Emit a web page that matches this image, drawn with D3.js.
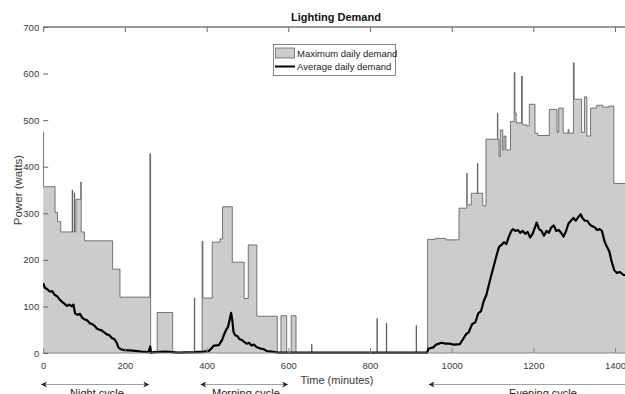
<!DOCTYPE html>
<html>
<head>
<meta charset="utf-8">
<script src="https://cdn.jsdelivr.net/npm/d3@7"></script>
<style>
  body { margin: 0; background: #fff; }
  svg { display: block; font-family: 'Liberation Sans', Arial, sans-serif; }
</style>
</head>
<body>
<svg id="chart" width="625" height="394"></svg>
<script>
// maximum daily demand, step values (value holds until next time)
const maxTimes = [0, 1, 29, 35, 43, 71, 72, 76, 77, 80, 92, 93, 95, 101, 170, 188, 261, 263, 279, 317,
  370, 371, 389, 391, 414, 433, 439, 463, 492, 502, 523, 573, 582, 596, 607, 619, 657, 658,
  817, 818, 840, 841, 913, 914, 941, 960, 985, 1018, 1037, 1038, 1048, 1063, 1064, 1076, 1084,
  1112, 1113, 1116, 1119, 1125, 1128, 1133, 1144, 1153, 1155, 1158, 1171, 1173, 1183, 1190,
  1204, 1211, 1239, 1258, 1262, 1273, 1285, 1287, 1298, 1300, 1318, 1325, 1331, 1340, 1355,
  1370, 1385, 1397, 1440]
const maxValues = [474, 357, 302, 282, 260, 350, 260, 344, 260, 330, 367, 260, 260, 241, 180, 120, 428, 0, 87, 0,
  118, 0, 240, 118, 238, 245, 314, 195, 117, 232, 79, 0, 80, 0, 80, 0, 19, 0,
  74, 0, 64, 0, 59, 0, 244, 246, 243, 311, 386, 318, 343, 407, 343, 316, 459,
  515, 459, 422, 479, 436, 466, 436, 497, 602, 515, 494, 594, 490, 488, 534,
  472, 467, 523, 474, 526, 472, 480, 472, 623, 545, 474, 550, 466, 526, 532,
  528, 530, 364, 364]

// average daily demand
const avgTimes = [0, 4, 10, 16, 22, 28, 34, 40, 46, 52, 58, 64, 70, 74, 78, 84, 90, 96, 102, 108, 114, 120,
  126, 132, 138, 144, 150, 156, 162, 168, 174, 180, 184, 190, 200, 220, 240, 258, 262, 264, 270,
  300, 317, 330, 370, 392, 405, 412, 418, 430, 438, 442, 448, 452, 456, 460, 463, 466, 470, 476,
  480, 486, 492, 498, 504, 510, 516, 522, 530, 540, 548, 560, 575, 940, 943, 955, 962, 975, 985,
  995, 1005, 1020, 1028, 1035, 1042, 1050, 1058, 1065, 1072, 1078, 1085, 1092, 1098, 1104, 1110,
  1116, 1122, 1128, 1134, 1140, 1146, 1150, 1156, 1162, 1168, 1174, 1180, 1186, 1192, 1198, 1204,
  1208, 1214, 1220, 1226, 1232, 1238, 1244, 1250, 1256, 1262, 1268, 1274, 1280, 1286, 1292, 1298,
  1304, 1310, 1316, 1320, 1326, 1332, 1338, 1344, 1350, 1356, 1362, 1368, 1374, 1380, 1386, 1392,
  1398, 1404, 1412, 1420, 1430, 1440]
const avgValues = [150, 140, 137, 132, 133, 125, 122, 115, 110, 106, 101, 104, 100, 104, 85, 82, 84, 75, 72, 70, 64, 62,
  58, 52, 50, 48, 44, 40, 38, 32, 30, 22, 12, 8, 6, 5, 3, 2, 14, 0, 2,
  3, 2, 1, 2, 3, 4, 10, 16, 17, 28, 38, 50, 55, 70, 86, 70, 45, 38, 36,
  30, 28, 24, 20, 22, 16, 18, 13, 10, 8, 4, 3, 1, 1, 9, 12, 18, 22, 20,
  20, 18, 19, 30, 40, 45, 62, 66, 85, 90, 110, 125, 150, 170, 190, 210,
  228, 232, 238, 234, 250, 262, 266, 262, 264, 258, 262, 256, 260, 248, 256, 270,
  280, 266, 262, 252, 262, 258, 270, 274, 262, 264, 258, 250, 262, 278, 284, 290,
  284, 292, 298, 290, 284, 284, 276, 272, 270, 264, 266, 262, 240, 228, 218, 195,
  178, 172, 174, 168, 166, 170]

const xTicks = [0, 200, 400, 600, 800, 1000, 1200, 1400]
const yTicks = [0, 100, 200, 300, 400, 500, 600, 700]
const cycles = ['Night cycle', 'Morning cycle', 'Evening cycle']
const cycleStart = [-4, 386, 945]
const cycleEnd = [258, 598, 1480]

const maxData = maxTimes.map((t, i) => ({ t, v: maxValues[i] }))
const avgData = avgTimes.map((t, i) => ({ t, v: avgValues[i] }))

const svg = d3.select('#chart')
const x = d3.scaleLinear().domain([0, 1440]).range([43.2, 631.4])
const y = d3.scaleLinear().domain([0, 700]).range([353, 27])
const axisColour = '#333'
const textColour = '#3a3a3a'

const defs = svg.append('defs')
defs.append('clipPath').attr('id', 'plotClip')
  .append('rect').attr('x', 43).attr('y', 20).attr('width', 600).attr('height', 334)
defs.append('marker')
  .attr('id', 'arrowHead')
  .attr('viewBox', '0 0 10 10')
  .attr('refX', 9).attr('refY', 5)
  .attr('markerWidth', 8).attr('markerHeight', 6)
  .attr('markerUnits', 'userSpaceOnUse')
  .attr('orient', 'auto-start-reverse')
  .append('path').attr('d', 'M0,0 L10,5 L0,10 L3,5 Z').attr('fill', '#222')

const plot = svg.append('g').attr('clip-path', 'url(#plotClip)')

// maximum demand area
plot.append('path')
  .datum(maxData)
  .attr('fill', '#cccccc')
  .attr('d', d3.area().curve(d3.curveStepAfter).x((d) => x(d.t)).y0(y(0)).y1((d) => y(d.v)))
plot.append('path')
  .datum(maxData)
  .attr('fill', 'none')
  .attr('stroke', '#444')
  .attr('stroke-width', 0.7)
  .attr('d', d3.line().curve(d3.curveStepAfter).x((d) => x(d.t)).y((d) => y(d.v)))

// axes (matlab box, ticks inside)
const bottomAxis = svg.append('g')
  .attr('transform', `translate(0, ${y(0)})`)
  .call(d3.axisBottom(x).tickValues(xTicks).tickFormat(d3.format('d'))
    .tickSizeInner(-5).tickSizeOuter(0).tickPadding(9))
bottomAxis.select('.domain').attr('stroke', '#888').attr('d', `M${x(0)},0H625`)
bottomAxis.selectAll('.tick line').attr('stroke', '#888')

const topAxis = svg.append('g')
  .attr('transform', `translate(0, ${y(700)})`)
  .call(d3.axisTop(x).tickValues(xTicks).tickSizeInner(-5).tickSizeOuter(0).tickFormat(''))
topAxis.select('.domain').attr('stroke', axisColour).attr('d', `M${x(0)},0H625`)
topAxis.selectAll('.tick line').attr('stroke', '#666')

const leftAxis = svg.append('g')
  .attr('transform', `translate(${x(0)}, 0)`)
  .call(d3.axisLeft(y).tickValues(yTicks).tickSizeInner(-5).tickSizeOuter(0).tickPadding(4))
leftAxis.select('.domain').remove()
leftAxis.selectAll('.tick line').attr('stroke', '#666')

svg.selectAll('.tick text')
  .attr('font-size', 9.5)
  .attr('fill', textColour)
  .attr('font-family', "'Liberation Sans', Arial, sans-serif")

// average demand line
plot.append('path')
  .datum(avgData)
  .attr('fill', 'none')
  .attr('stroke', '#000')
  .attr('stroke-width', 2.2)
  .attr('stroke-linejoin', 'round')
  .attr('d', d3.line().x((d) => x(d.t)).y((d) => y(d.v)))

// title and labels
svg.append('text')
  .attr('x', 336).attr('y', 21)
  .attr('text-anchor', 'middle')
  .attr('font-size', 11)
  .attr('font-weight', 'bold')
  .attr('fill', '#111')
  .text('Lighting Demand')

svg.append('text')
  .attr('x', 337).attr('y', 384)
  .attr('text-anchor', 'middle')
  .attr('font-size', 11)
  .attr('fill', textColour)
  .text('Time (minutes)')

svg.append('text')
  .attr('transform', 'translate(21.5, 190) rotate(-90)')
  .attr('text-anchor', 'middle')
  .attr('font-size', 11.5)
  .attr('fill', textColour)
  .text('Power (watts)')

// legend
const legend = svg.append('g')
legend.append('rect')
  .attr('x', 273.5).attr('y', 44.5).attr('width', 122).attr('height', 31)
  .attr('fill', '#fff').attr('stroke', '#666').attr('stroke-width', 0.8)
legend.append('rect')
  .attr('x', 275.5).attr('y', 48).attr('width', 19).attr('height', 10)
  .attr('fill', '#cccccc').attr('stroke', '#555').attr('stroke-width', 0.7)
legend.append('text')
  .attr('x', 297).attr('y', 57)
  .attr('font-size', 9.5).attr('fill', '#222')
  .text('Maximum daily demand')
legend.append('line')
  .attr('x1', 275).attr('x2', 295).attr('y1', 66.5).attr('y2', 66.5)
  .attr('stroke', '#000').attr('stroke-width', 2)
legend.append('text')
  .attr('x', 297).attr('y', 70)
  .attr('font-size', 9.5).attr('fill', '#222')
  .text('Average daily demand')

// cycle annotations
const ann = svg.append('g').selectAll('g')
  .data(cycles)
  .join('g')
ann.append('line')
  .attr('x1', (d, i) => x(cycleStart[i]))
  .attr('x2', (d, i) => x(cycleEnd[i]))
  .attr('y1', 384.5).attr('y2', 384.5)
  .attr('stroke', '#888').attr('stroke-width', 0.8)
  .attr('marker-start', 'url(#arrowHead)')
  .attr('marker-end', 'url(#arrowHead)')
ann.append('text')
  .attr('x', (d, i) => [97, 246, 543][i])
  .attr('y', 397)
  .attr('text-anchor', 'middle')
  .attr('font-size', 11)
  .attr('fill', '#222')
  .text((d) => d)
</script>
</body>
</html>
